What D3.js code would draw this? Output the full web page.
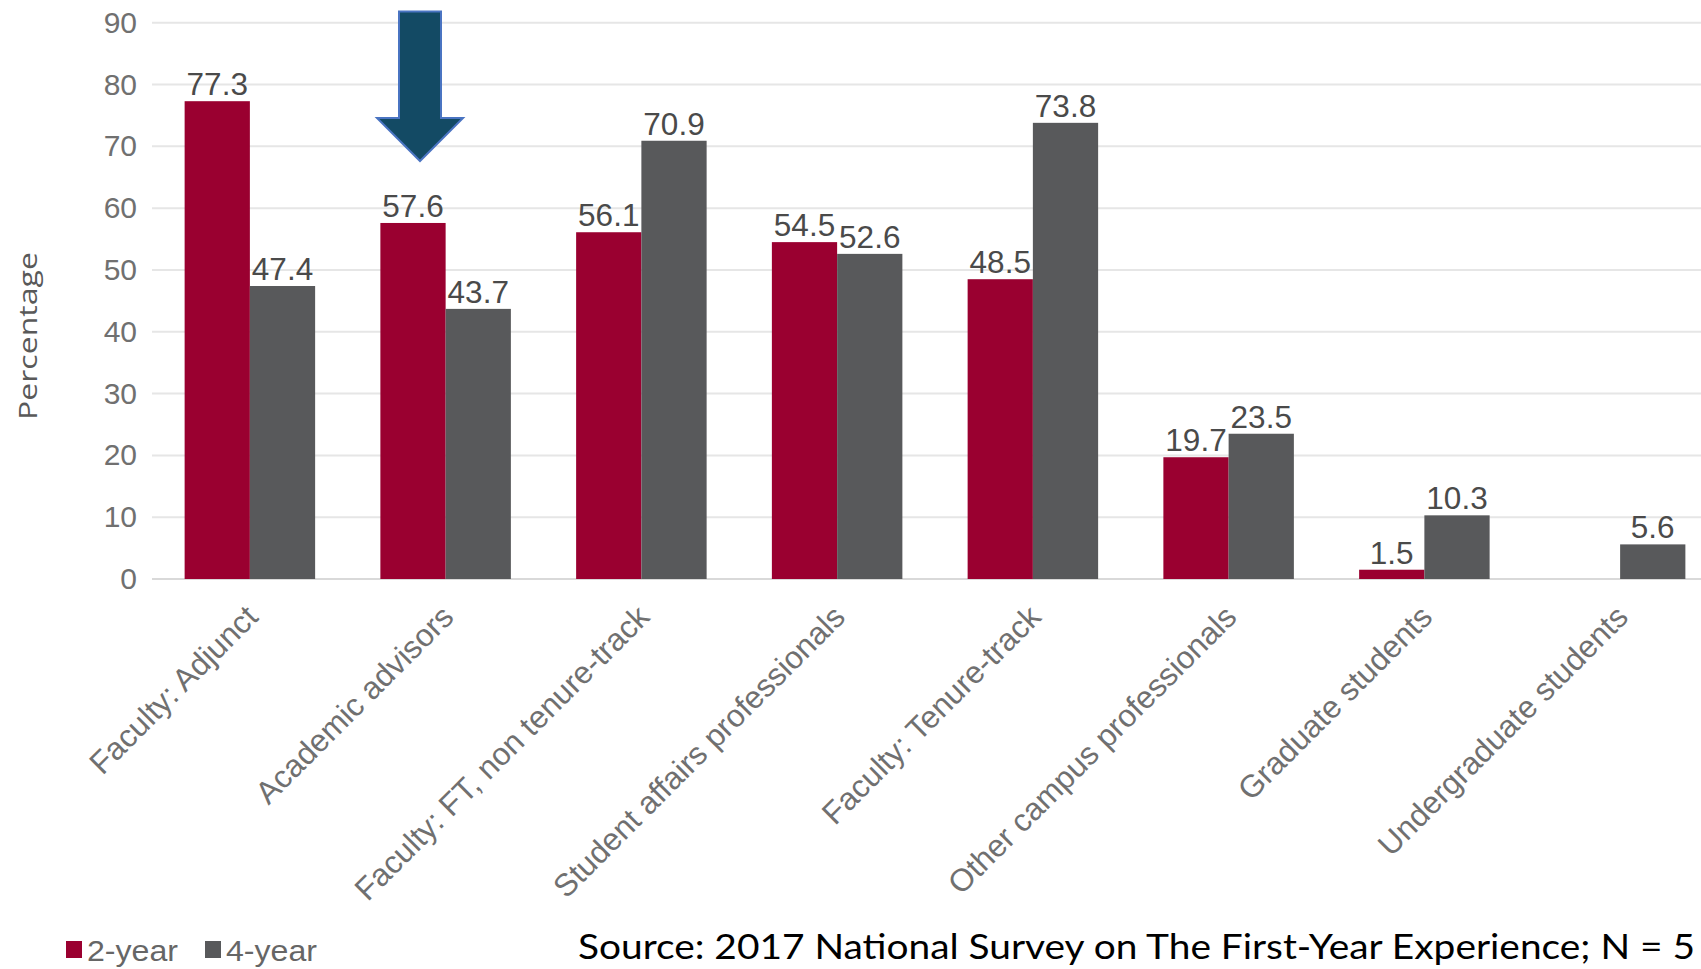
<!DOCTYPE html>
<html>
<head>
<meta charset="utf-8">
<script src="https://cdn.jsdelivr.net/npm/d3@7/dist/d3.min.js"></script>
<style>
  html, body { margin: 0; padding: 0; background: #ffffff; }
  svg { display: block; }
</style>
</head>
<body>
<script>
// Who teaches first-year seminars, by institution type (percent)
const categories = [
  "Faculty: Adjunct",
  "Academic advisors",
  "Faculty: FT, non tenure-track",
  "Student affairs professionals",
  "Faculty: Tenure-track",
  "Other campus professionals",
  "Graduate students",
  "Undergraduate students"
];
const seriesNames = ["2-year", "4-year"];
const twoYear  = [77.3, 57.6, 56.1, 54.5, 48.5, 19.7, 1.5, null];
const fourYear = [47.4, 43.7, 70.9, 52.6, 73.8, 23.5, 10.3, 5.6];
const yTicks = [0, 10, 20, 30, 40, 50, 60, 70, 80, 90];
const yTitle = "Percentage";
const sourceNote = "Source: 2017 National Survey on The First-Year Experience; N = 5";
const highlighted = "Academic advisors";

const colors = { "2-year": "#9a0030", "4-year": "#58595b" };

const W = 1701, H = 969;
const svg = d3.select("body").append("svg")
  .attr("width", W).attr("height", H);

const plotLeft = 152, plotRight = 1718;
const x0 = d3.scaleBand()
  .domain(categories)
  .range([plotLeft, plotRight])
  .paddingInner(1 / 3)
  .paddingOuter(1 / 6);
const x1 = d3.scaleBand()
  .domain(seriesNames)
  .range([0, x0.bandwidth()]);
const y = d3.scaleLinear().domain([0, 90]).range([579, 22.7]);

const font = "'Liberation Sans', Arial, sans-serif";

// horizontal gridlines
svg.append("g")
  .selectAll("line")
  .data(yTicks)
  .join("line")
  .attr("x1", plotLeft).attr("x2", W)
  .attr("y1", d => y(d)).attr("y2", d => y(d))
  .attr("stroke", d => d === 0 ? "#d9d9d9" : "#e6e6e6")
  .attr("stroke-width", 2);

// y axis labels
const yAxis = d3.axisLeft(y).tickValues(yTicks).tickSize(0).tickPadding(0);
const yg = svg.append("g")
  .attr("transform", `translate(${137},0)`)
  .call(yAxis);
yg.select(".domain").remove();
yg.selectAll("text")
  .attr("font-family", font)
  .attr("font-size", 30)
  .attr("fill", "#707070");

// y axis title
svg.append("text")
  .attr("transform", `translate(37,${336}) rotate(-90)`)
  .attr("text-anchor", "middle")
  .attr("font-family", "'Open Sans', sans-serif")
  .attr("font-size", 26)
  .attr("fill", "#595959")
  .attr("textLength", 168)
  .attr("lengthAdjust", "spacingAndGlyphs")
  .text(yTitle);

// rows of (category, series, value)
const rows = [];
categories.forEach((c, i) => {
  rows.push({ cat: c, series: "2-year", value: twoYear[i] });
  rows.push({ cat: c, series: "4-year", value: fourYear[i] });
});
const present = rows.filter(r => r.value != null);

// bars
svg.append("g")
  .selectAll("rect")
  .data(present)
  .join("rect")
  .attr("x", d => x0(d.cat) + x1(d.series))
  .attr("width", x1.bandwidth())
  .attr("y", d => y(d.value))
  .attr("height", d => y(0) - y(d.value))
  .attr("fill", d => colors[d.series]);

// value labels
svg.append("g")
  .selectAll("text")
  .data(present)
  .join("text")
  .attr("x", d => x0(d.cat) + x1(d.series) + x1.bandwidth() / 2)
  .attr("y", d => y(d.value) - 6)
  .attr("text-anchor", "middle")
  .attr("font-family", font)
  .attr("font-size", 31.5)
  .attr("fill", "#4a4a4a")
  .text(d => d.value.toFixed(1));

// rotated category labels
svg.append("g")
  .selectAll("text")
  .data(categories)
  .join("text")
  .attr("transform", d => `translate(${x0(d) + x0.bandwidth() / 2 + 2},${611}) rotate(-45)`)
  .attr("text-anchor", "end")
  .attr("dy", "0.35em")
  .attr("font-family", font)
  .attr("font-size", 31.5)
  .attr("fill", "#707070")
  .text(d => d);

// legend
const legend = svg.append("g").attr("transform", "translate(66,950)");
const legendItems = legend.selectAll("g")
  .data(seriesNames)
  .join("g")
  .attr("transform", (d, i) => `translate(${i * 139},0)`);
legendItems.append("rect")
  .attr("x", 0).attr("y", -9)
  .attr("width", 16).attr("height", 17)
  .attr("fill", d => colors[d]);
legendItems.append("text")
  .attr("x", 21).attr("y", 0)
  .attr("dy", "0.35em")
  .attr("font-family", font)
  .attr("font-size", 30)
  .attr("fill", "#666666")
  .attr("textLength", 91)
  .attr("lengthAdjust", "spacingAndGlyphs")
  .text(d => d);

// callout arrow over the highlighted category's 2-year bar
const ax = x0(highlighted) + x1("2-year") + x1.bandwidth() / 2 + 7;
const shaftHalf = 21, headHalf = 43, arrowTop = 11.5, shaftBottom = 118, arrowTip = 161;
const arrowPath = d3.path();
arrowPath.moveTo(ax - shaftHalf, arrowTop);
arrowPath.lineTo(ax + shaftHalf, arrowTop);
arrowPath.lineTo(ax + shaftHalf, shaftBottom);
arrowPath.lineTo(ax + headHalf, shaftBottom);
arrowPath.lineTo(ax, arrowTip);
arrowPath.lineTo(ax - headHalf, shaftBottom);
arrowPath.lineTo(ax - shaftHalf, shaftBottom);
arrowPath.closePath();
svg.append("path")
  .attr("d", arrowPath.toString())
  .attr("fill", "#134a64")
  .attr("stroke", "#4a74c2")
  .attr("stroke-width", 2)
  .attr("stroke-linejoin", "miter");

// source note
svg.append("text")
  .attr("x", 578)
  .attr("y", 959)
  .attr("font-family", "Lato, 'Open Sans', sans-serif")
  .attr("font-size", 35)
  .attr("fill", "#000000")
  .attr("textLength", 1117)
  .attr("lengthAdjust", "spacingAndGlyphs")
  .text(sourceNote);
</script>
</body>
</html>
